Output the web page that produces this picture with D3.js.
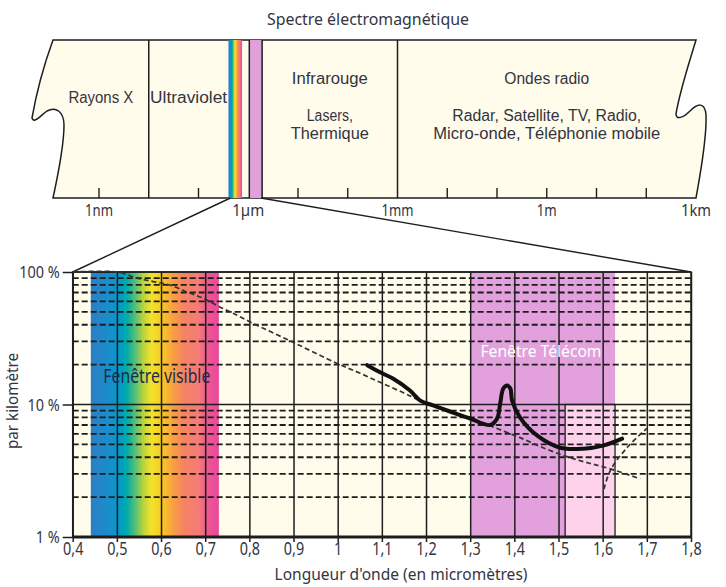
<!DOCTYPE html>
<html>
<head>
<meta charset="utf-8">
<script src="https://cdn.jsdelivr.net/npm/d3@7"></script>
<style>
body { margin: 0; background: #fff; }
svg text { font-family: "Noto Sans", "DejaVu Sans", sans-serif; fill: #34343f; }
svg text.region { font-family: "Liberation Sans", "Noto Sans", sans-serif; }
</style>
</head>
<body>
<script>
// ---- banner (wavelength in metres) ----
var bannerDividers = [1e-8, 1.05e-6, 1.9e-6, 1e-3];
var bannerTicks = [1e-9, 1e-7, 1e-5, 1e-4, 1e-2, 1e-1, 1, 10, 100];
var bannerTickValues = [1e-9, 1e-6, 1e-3, 1, 1e3];
var bannerTickLabels = ["1nm", "1\u00b5m", "1mm", "1m", "1km"];
var bannerVisible = [0.4e-6, 0.75e-6];
var bannerIR = [1.05e-6, 1.9e-6];
var bannerZoom = [0.4e-6, 1.8e-6];

// ---- zoomed chart (micrometres / % per km) ----
var xTicks = [0.4, 0.5, 0.6, 0.7, 0.8, 0.9, 1.0, 1.1, 1.2, 1.3, 1.4, 1.5, 1.6, 1.7, 1.8];
var xTickLabels = ["0,4", "0,5", "0,6", "0,7", "0,8", "0,9", "1", "1,1", "1,2", "1,3", "1,4", "1,5", "1,6", "1,7", "1,8"];
var yTicks = [1, 10, 100];
var yTickLabels = ["1 %", "10 %", "100 %"];
var yMinor = [2, 3, 4, 5, 6, 7, 8, 9, 20, 30, 40, 50, 60, 70, 80, 90];

var visibleBand = [0.441, 0.731];
var telecomBand = [1.3, 1.628];
var telecomSubBand = [1.515, 1.628];
var telecomSubTop = 10;

// diffusion (dashed)
var scatterX = [0.4, 0.5, 0.546, 0.582, 0.62, 0.659, 0.695, 0.734, 0.763, 0.808, 0.899, 0.999, 1.051, 1.096, 1.148, 1.187, 1.329, 1.361, 1.413, 1.465, 1.519, 1.565, 1.617, 1.685];
var scatterY = [100, 100, 90, 84.7, 79.7, 70.5, 63.5, 54.3, 48.9, 41, 29.5, 20.4, 17.2, 14.7, 12.3, 10.7, 7.3, 6.58, 5.62, 4.72, 4.04, 3.64, 3.27, 2.75];

// absorption infrarouge (dashed)
var irX = [1.603, 1.617, 1.655, 1.70];
var irY = [2.3, 3.16, 4.72, 6.6];

// atténuation de la fibre (solid)
var fibreX = [1.067, 1.096, 1.125, 1.163, 1.187, 1.216, 1.261, 1.3, 1.345, 1.361, 1.368, 1.375, 1.384, 1.391, 1.395, 1.413, 1.452, 1.504, 1.556, 1.601, 1.644];
var fibreY = [19.8, 17.5, 15.7, 12.8, 10.7, 9.83, 8.7, 7.84, 7.0, 7.84, 10.2, 13.2, 13.9, 13.2, 10.7, 7.97, 5.82, 4.72, 4.64, 4.89, 5.52];

var cream = "#fffcec";
var ink = "#1e1e1e";

// squeeze a text to a given width (condensed look)
function fit(sel, w) {
    sel.attr("textLength", w).attr("lengthAdjust", "spacingAndGlyphs");
}
function condense(sel, k) {
    sel.each(function(){
        var n = this.getComputedTextLength();
        d3.select(this).attr("textLength", n * k).attr("lengthAdjust", "spacingAndGlyphs");
    });
}

var svg = d3.select("body").append("svg")
    .attr("width", 726)
    .attr("height", 587);

var defs = svg.append("defs");
var grad = defs.append("linearGradient").attr("id", "rainbow");
[[0, "#2d7ec4"], [0.16, "#1590cc"], [0.22, "#0399cc"], [0.28, "#00aba8"], [0.34, "#4dbd7c"],
 [0.41, "#b8d43c"], [0.47, "#f2e22c"], [0.56, "#f9c822"], [0.64, "#f8a042"], [0.73, "#f68262"],
 [0.85, "#f47a78"], [0.9, "#ee5a92"], [1, "#e8489a"]].forEach(function(s){
    grad.append("stop").attr("offset", s[0]).attr("stop-color", s[1]);
});

//BANNER
var bx = d3.scaleLog().domain([1e-9, 1e3]).range([99, 696]);
var bTop = 40, bBot = 198, bl = 53, br = 696;

svg.append("text")
    .attr("x", 368).attr("y", 25)
    .attr("text-anchor", "middle")
    .style("font-size", "16.5px")
    .text("Spectre \u00e9lectromagn\u00e9tique")
    .call(fit, 202);

var bannerPath = "M" + bl + "," + bTop + " L" + br + "," + bTop +
    " C" + (br-6) + ",60 " + (br-16) + ",90 " + (br-20) + ",114" +
    " C" + (br-20) + ",120 " + (br-13) + ",118 " + (br-6) + ",111" +
    " C" + (br+1) + ",104 " + (br+9) + ",101 " + (br+10) + ",115" +
    " C" + (br+11) + ",140 " + (br+4) + ",175 " + br + "," + bBot +
    " L" + bl + "," + bBot +
    " C" + (bl+5) + ",175 " + (bl+11) + ",145 " + (bl+11) + ",125" +
    " C" + (bl+11) + ",112 " + (bl+3) + ",106 " + (bl-6) + ",111" +
    " C" + (bl-13) + ",116 " + (bl-19) + ",124 " + (bl-21) + ",118" +
    " C" + (bl-17) + ",95 " + (bl-8) + ",62 " + bl + "," + bTop + " Z";

svg.append("path")
    .attr("d", bannerPath)
    .attr("fill", cream)
    .attr("stroke", ink)
    .attr("stroke-width", 1.5);

svg.append("rect")
    .attr("x", bx(bannerVisible[0])).attr("y", bTop)
    .attr("width", bx(bannerVisible[1]) - bx(bannerVisible[0]))
    .attr("height", bBot - bTop)
    .attr("fill", "url(#rainbow)");

svg.append("rect")
    .attr("x", bx(bannerIR[0])).attr("y", bTop)
    .attr("width", bx(bannerIR[1]) - bx(bannerIR[0]))
    .attr("height", bBot - bTop)
    .attr("fill", "#e0a0da");

svg.selectAll("line.divider")
    .data(bannerDividers)
    .enter().append("line")
        .attr("class", "divider")
        .attr("x1", function(d){return bx(d);}).attr("x2", function(d){return bx(d);})
        .attr("y1", bTop).attr("y2", bBot)
        .attr("stroke", ink).attr("stroke-width", 1.5);

svg.selectAll("line.btick")
    .data(bannerTicks)
    .enter().append("line")
        .attr("class", "btick")
        .attr("x1", function(d){return bx(d);}).attr("x2", function(d){return bx(d);})
        .attr("y1", bBot - 10).attr("y2", bBot)
        .attr("stroke", ink).attr("stroke-width", 1.4);

var bLabelWidths = [28, 32, 32, 20, 30];
svg.selectAll("text.blabel")
    .data(bannerTickValues)
    .enter().append("text")
        .attr("class", "blabel")
        .attr("x", function(d){return bx(d);})
        .attr("y", 216)
        .attr("text-anchor", "middle")
        .style("font-size", "16px")
        .text(function(d, i){return bannerTickLabels[i];})
        .each(function(d, i){ fit(d3.select(this), bLabelWidths[i]); });

// region labels, centred between dividers
var edges = [bl, bx(bannerDividers[0]), bx(bannerVisible[0]), bx(bannerDividers[2]), bx(bannerDividers[3]), br];
var regions = [
    {a: 0, b: 1, lines: [["Rayons X", 103, 65]]},
    {a: 1, b: 2, lines: [["Ultraviolet", 103, 77]]},
    {a: 3, b: 4, lines: [["Infrarouge", 84, 76], ["Lasers,", 121, 46], ["Thermique", 139, 78]]},
    {a: 4, b: 5, lines: [["Ondes radio", 84, 85], ["Radar, Satellite, TV, Radio,", 121, 189], ["Micro-onde, T\u00e9l\u00e9phonie mobile", 139, 227]]}
];
regions.forEach(function(r){
    var cx = (edges[r.a] + edges[r.b]) / 2;
    r.lines.forEach(function(l){
        svg.append("text")
            .attr("class", "region")
            .attr("x", cx)
            .attr("y", l[1])
            .attr("text-anchor", "middle")
            .style("font-size", "16px")
            .text(l[0])
            .call(fit, l[2]);
    });
});

//CHART
var x = d3.scaleLinear().domain([0.4, 1.8]).range([72.7, 691]);
var y = d3.scaleLog().domain([1, 100]).range([537, 272]);

// zoom lines from the banner
svg.append("line")
    .attr("x1", bx(bannerZoom[0]) + 2).attr("y1", bBot)
    .attr("x2", x(0.4)).attr("y2", y(100))
    .attr("stroke", ink).attr("stroke-width", 1.4);
svg.append("line")
    .attr("x1", bx(bannerZoom[1])).attr("y1", bBot)
    .attr("x2", x(1.8)).attr("y2", y(100))
    .attr("stroke", ink).attr("stroke-width", 1.4);

var chart = svg.append("g");

chart.append("rect")
    .attr("x", x(0.4)).attr("y", y(100))
    .attr("width", x(1.8) - x(0.4)).attr("height", y(1) - y(100))
    .attr("fill", cream);

chart.append("rect")
    .attr("x", x(visibleBand[0])).attr("y", y(100))
    .attr("width", x(visibleBand[1]) - x(visibleBand[0]))
    .attr("height", y(1) - y(100))
    .attr("fill", "url(#rainbow)");

chart.append("rect")
    .attr("x", x(telecomBand[0])).attr("y", y(100))
    .attr("width", x(telecomBand[1]) - x(telecomBand[0]))
    .attr("height", y(1) - y(100))
    .attr("fill", "#e2a1dc");

chart.append("rect")
    .attr("x", x(telecomSubBand[0])).attr("y", y(telecomSubTop))
    .attr("width", x(telecomSubBand[1]) - x(telecomSubBand[0]))
    .attr("height", y(1) - y(telecomSubTop))
    .attr("fill", "#fdd2ea")
    .attr("stroke", ink).attr("stroke-width", 1.3);

// dashed minor grid
chart.selectAll("line.minor")
    .data(yMinor)
    .enter().append("line")
        .attr("class", "minor")
        .attr("x1", x(0.4)).attr("x2", x(1.8))
        .attr("y1", function(d){return y(d);}).attr("y2", function(d){return y(d);})
        .attr("stroke", ink).attr("stroke-width", 1.8)
        .attr("stroke-dasharray", "6,3");

// vertical grid + x axis
chart.append("g")
    .attr("class", "x axis")
    .attr("transform", "translate(0," + y(1) + ")")
    .call(d3.axisBottom(x).tickValues(xTicks).tickSize(-(y(1) - y(100))).tickSizeOuter(0)
        .tickFormat(function(d, i){return xTickLabels[i];}));

chart.append("g")
    .attr("class", "x ticks")
    .attr("transform", "translate(0," + y(1) + ")")
    .call(d3.axisBottom(x).tickValues(xTicks).tickSize(5).tickFormat(""));

chart.append("g")
    .attr("class", "y axis")
    .attr("transform", "translate(" + x(0.4) + ",0)")
    .call(d3.axisLeft(y).tickValues(yTicks).tickSize(10).tickSizeOuter(0)
        .tickFormat(function(d, i){return yTickLabels[i];}));

chart.selectAll(".axis path, .ticks path").attr("stroke", "none");
chart.selectAll(".axis line, .ticks line").attr("stroke", ink).attr("stroke-width", 1.5);
chart.selectAll(".axis text").attr("fill", "#34343f");
chart.selectAll(".x.axis text").style("font-size", "18px").attr("y", 5).attr("dy", "0.71em")
    .call(condense, 0.8);
chart.selectAll(".y.axis text").style("font-size", "17px").attr("x", -13).attr("dy", "0.35em")
    .call(condense, 0.85);

// solid major grid lines
chart.selectAll("line.major")
    .data(yTicks)
    .enter().append("line")
        .attr("class", "major")
        .attr("x1", x(0.4)).attr("x2", x(1.8))
        .attr("y1", function(d){return y(d);}).attr("y2", function(d){return y(d);})
        .attr("stroke", ink)
        .attr("stroke-width", function(d){return d === 1 ? 3 : 1.5;});

chart.append("rect")
    .attr("x", x(0.4)).attr("y", y(100))
    .attr("width", x(1.8) - x(0.4)).attr("height", y(1) - y(100))
    .attr("fill", "none")
    .attr("stroke", ink).attr("stroke-width", 1.5);

// band labels
chart.append("text")
    .attr("x", (x(visibleBand[0]) + x(visibleBand[1])) / 2 + 2)
    .attr("y", 383)
    .attr("text-anchor", "middle")
    .style("font-size", "19px")
    .style("fill", "#1c2d4e")
    .text("Fen\u00eatre visible")
    .call(fit, 107);

chart.append("text")
    .attr("x", 541)
    .attr("y", 357)
    .attr("text-anchor", "middle")
    .style("font-size", "17px")
    .style("fill", "#ffffff")
    .text("Fen\u00eatre T\u00e9l\u00e9com")
    .call(fit, 121);

// curves
var line = d3.line()
    .x(function(d){return x(d[0]);})
    .y(function(d){return y(d[1]);})
    .curve(d3.curveCatmullRom);

chart.append("path")
    .datum(d3.zip(scatterX, scatterY))
    .attr("d", line)
    .attr("fill", "none")
    .attr("stroke", "#333").attr("stroke-width", 1.7)
    .attr("stroke-dasharray", "5,3");

chart.append("path")
    .datum(d3.zip(irX, irY))
    .attr("d", line)
    .attr("fill", "none")
    .attr("stroke", "#333").attr("stroke-width", 1.7)
    .attr("stroke-dasharray", "5,3");

chart.append("path")
    .datum(d3.zip(fibreX, fibreY))
    .attr("d", line)
    .attr("fill", "none")
    .attr("stroke", "#111").attr("stroke-width", 4)
    .attr("stroke-linecap", "round");

// axis titles
svg.append("text")
    .attr("x", 401)
    .attr("y", 580)
    .attr("text-anchor", "middle")
    .style("font-size", "16.5px")
    .text("Longueur d'onde (en microm\u00e8tres)")
    .call(fit, 253);

svg.append("text")
    .attr("transform", "translate(18,401) rotate(-90)")
    .attr("text-anchor", "middle")
    .style("font-size", "16px")
    .text("par kilom\u00e8tre")
    .call(fit, 96);
</script>
</body>
</html>
